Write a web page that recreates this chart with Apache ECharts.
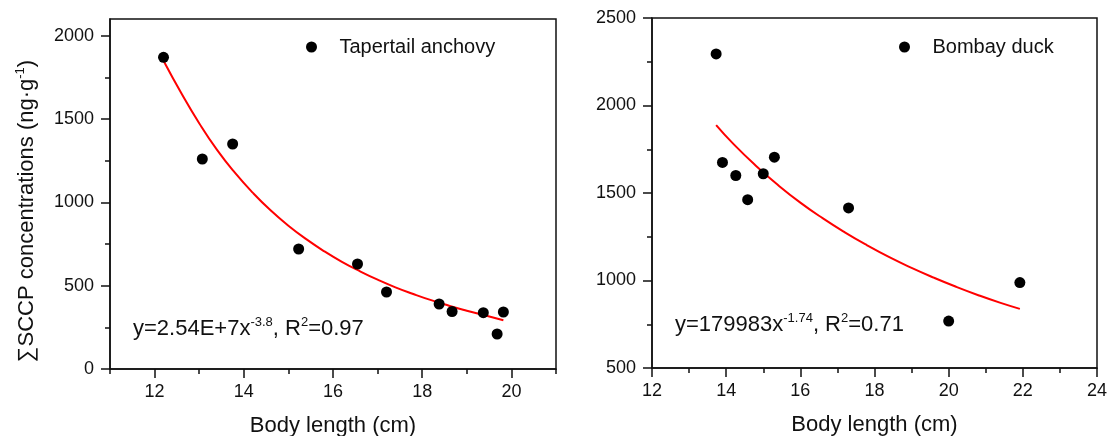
<!DOCTYPE html>
<html><head><meta charset="utf-8">
<script src="https://cdn.jsdelivr.net/npm/echarts@6/dist/echarts.min.js"></script>
<style>html,body{margin:0;padding:0;background:#fff}#c{width:1107px;height:436px}</style>
</head><body><div id="c"></div>
<script>
// ---- data ----
const anchovyLength = [12.2, 13.07, 13.75, 15.23, 16.55, 17.2, 18.38, 18.67, 19.37, 19.68, 19.82];
const anchovySCCP   = [1870, 1260, 1350, 720, 630, 462, 390, 345, 338, 210, 342];
const anchovyFitLength = [12.2, 12.6, 13.0, 13.4, 13.8, 14.2, 14.6, 15.0, 15.4, 15.8, 16.2, 16.6, 17.0, 17.4, 17.8, 18.2, 18.6, 19.0, 19.4, 19.82];
const anchovyFitSCCP   = [1850, 1655, 1475, 1315, 1178, 1058, 952, 860, 779, 707, 643, 587, 536, 490, 450, 413, 380, 350, 322, 292];
const duckLength = [13.73, 13.9, 14.26, 14.58, 15.0, 15.3, 17.3, 20.0, 21.92];
const duckSCCP   = [2295, 1675, 1600, 1462, 1610, 1705, 1415, 768, 988];
const duckFitLength = [13.73, 14.2, 14.8, 15.4, 16.0, 16.6, 17.2, 17.8, 18.4, 19.0, 19.6, 20.2, 20.8, 21.4, 21.92];
const duckFitSCCP   = [1888, 1779, 1656, 1545, 1445, 1356, 1275, 1201, 1133, 1072, 1016, 964, 916, 872, 838];

const leftXTicks = [12, 14, 16, 18, 20];
const leftXMinorTicks = [11, 13, 15, 17, 19, 21];
const leftYTicks = [0, 500, 1000, 1500, 2000];
const leftYMinorTicks = [250, 750, 1250, 1750];
const rightXTicks = [12, 14, 16, 18, 20, 22, 24];
const rightXMinorTicks = [13, 15, 17, 19, 21, 23];
const rightYTicks = [500, 1000, 1500, 2000, 2500];
const rightYMinorTicks = [750, 1250, 1750, 2250];

const seriesNames = ['Tapertail anchovy', 'Bombay duck'];
const xTitle = 'Body length (cm)';
const yTitle = '\u2211SCCP concentrations (ng\u00b7g{sup|-1})';
const fitLabels = ['{a|y=2.54E+7x}{s|-3.8}{a|, R}{s|2}{a|=0.97}', '{a|y=179983x}{s|-1.74}{a|, R}{s|2}{a|=0.71}'];

// ---- helpers ----
const FONT = 'Liberation Sans, Arial, Helvetica, sans-serif';
const INK = '#111';
const pairs = (xs, ys) => xs.map((x, i) => [x, ys[i]]);

function majorAxis(dim, grid, min, max, ticks, extra) {
  return Object.assign({
    type: 'value', gridIndex: grid, min: min, max: max,
    position: dim === 'x' ? 'bottom' : 'left',
    axisLine: { show: true, onZero: false, lineStyle: { color: INK, width: 1.5 } },
    axisTick: { show: true, inside: false, length: 9, customValues: ticks, lineStyle: { color: INK, width: 1.5 } },
    axisLabel: { show: true, customValues: ticks, margin: dim === 'x' ? 14 : 16, fontSize: 18, fontFamily: FONT, color: INK,
      formatter: v => String(v) },
    splitLine: { show: false }
  }, extra || {});
}
function minorAxis(dim, grid, min, max, ticks) {
  return {
    type: 'value', gridIndex: grid, min: min, max: max,
    position: dim === 'x' ? 'bottom' : 'left', offset: 0,
    axisLine: { show: false, onZero: false },
    axisTick: { show: true, inside: false, length: 5, customValues: ticks, lineStyle: { color: INK, width: 1.5 } },
    axisLabel: { show: false },
    splitLine: { show: false }
  };
}

const chart = echarts.init(document.getElementById('c'), null, { renderer: 'canvas' });
chart.setOption({
  animation: false,
  backgroundColor: '#fff',
  grid: [
    { left: 110, top: 19, right: 551, bottom: 67, show: true, borderColor: INK, borderWidth: 1.5, backgroundColor: 'transparent',
      containLabel: false, outerBoundsMode: 'none' },
    { left: 652, top: 18, right: 10, bottom: 68, show: true, borderColor: INK, borderWidth: 1.5, backgroundColor: 'transparent',
      containLabel: false, outerBoundsMode: 'none' }
  ],
  xAxis: [
    majorAxis('x', 0, 11, 21, leftXTicks, { name: xTitle, nameLocation: 'middle', nameGap: 46, nameTextStyle: { fontSize: 22, fontFamily: FONT, color: INK } }),
    minorAxis('x', 0, 11, 21, leftXMinorTicks),
    majorAxis('x', 1, 12, 24, rightXTicks, { name: xTitle, nameLocation: 'middle', nameGap: 46, nameTextStyle: { fontSize: 22, fontFamily: FONT, color: INK } }),
    minorAxis('x', 1, 12, 24, rightXMinorTicks)
  ],
  yAxis: [
    majorAxis('y', 0, 0, 2100, leftYTicks, { name: yTitle, nameLocation: 'middle', nameGap: 70,
      nameTextStyle: { fontSize: 22, fontFamily: FONT, color: INK, lineHeight: 26, padding: [0, 34, 0, 0],
        rich: { sup: { fontSize: 13, fontFamily: FONT, color: INK, verticalAlign: 'top', lineHeight: 26 } } } }),
    minorAxis('y', 0, 0, 2100, leftYMinorTicks),
    majorAxis('y', 1, 500, 2500, rightYTicks),
    minorAxis('y', 1, 500, 2500, rightYMinorTicks)
  ],
  legend: [
    { data: [seriesNames[0]], left: 306, top: 35, padding: 0, itemWidth: 46, itemHeight: 11, icon: 'circle',
      itemStyle: { opacity: 1 }, textStyle: { fontSize: 20, fontFamily: FONT, color: INK, lineHeight: 24 } },
    { data: [seriesNames[1]], left: 899, top: 35, padding: 0, itemWidth: 46, itemHeight: 11, icon: 'circle',
      itemStyle: { opacity: 1 }, textStyle: { fontSize: 20, fontFamily: FONT, color: INK, lineHeight: 24 } }
  ],
  series: [
    { name: 'fit1', type: 'line', xAxisIndex: 0, yAxisIndex: 0, data: pairs(anchovyFitLength, anchovyFitSCCP),
      showSymbol: false, smooth: true, lineStyle: { color: '#f00', width: 2 }, itemStyle: { color: '#f00' }, z: 2 },
    { name: seriesNames[0], type: 'scatter', xAxisIndex: 0, yAxisIndex: 0, data: pairs(anchovyLength, anchovySCCP),
      symbolSize: 11, itemStyle: { color: '#000', opacity: 1 }, z: 3 },
    { name: 'fit2', type: 'line', xAxisIndex: 2, yAxisIndex: 2, data: pairs(duckFitLength, duckFitSCCP),
      showSymbol: false, smooth: true, lineStyle: { color: '#f00', width: 2 }, itemStyle: { color: '#f00' }, z: 2 },
    { name: seriesNames[1], type: 'scatter', xAxisIndex: 2, yAxisIndex: 2, data: pairs(duckLength, duckSCCP),
      symbolSize: 11, itemStyle: { color: '#000', opacity: 1 }, z: 3 }
  ],
  graphic: [
    { type: 'text', left: 133, top: 316, style: { text: fitLabels[0], fill: INK,
      rich: { a: { fontSize: 22, fontFamily: FONT, fill: INK, lineHeight: 26 }, s: { fontSize: 13, fontFamily: FONT, fill: INK, verticalAlign: 'top', lineHeight: 26 } } } },
    { type: 'text', left: 675, top: 312, style: { text: fitLabels[1], fill: INK,
      rich: { a: { fontSize: 22, fontFamily: FONT, fill: INK, lineHeight: 26 }, s: { fontSize: 13, fontFamily: FONT, fill: INK, verticalAlign: 'top', lineHeight: 26 } } } }
  ]
});
</script>
</body></html>
